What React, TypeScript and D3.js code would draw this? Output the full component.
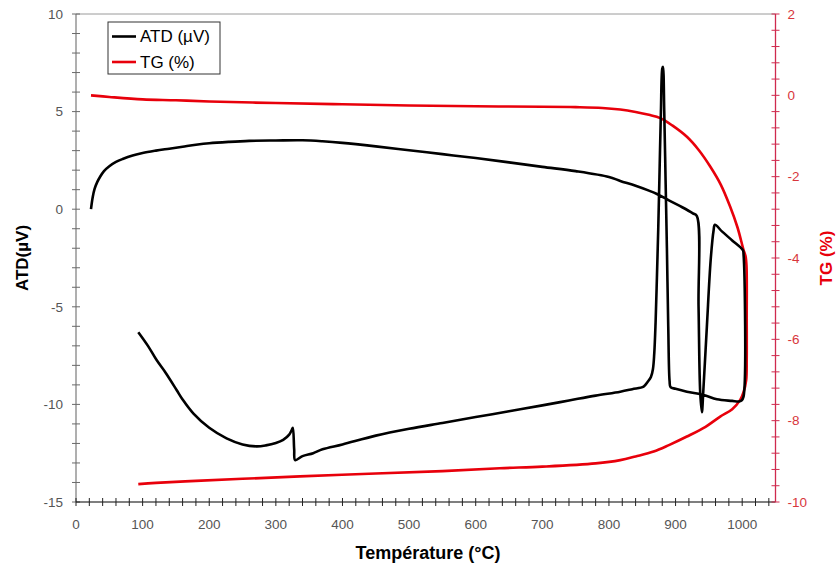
import React from "react";
import * as d3 from "d3";

// Temperature (°C) and DTA signal (µV): heating run then cooling run
const atdTemp = [
  22.5, 25, 28, 32, 36, 42, 50, 60, 70, 85, 100, 120, 140, 160, 180, 200, 230, 260, 300, 340,
  370, 400, 450, 500, 550, 600, 650, 700, 750, 800, 817, 840, 860, 872, 890, 910, 926, 932,
  934.5, 937, 939.5, 941.5, 947, 952.7, 957, 959, 970, 985, 1001, 1002, 1002,
  999, 995, 985, 962, 942, 917, 900, 892.5, 891, 889, 887, 885, 883, 881, 880, 878, 876, 874,
  872, 870, 868, 866, 863, 858, 852, 835, 817, 780, 740, 700, 650, 600, 550, 500, 450, 400,
  370, 356, 340, 329, 327.5, 325.5, 324, 320, 311, 300, 285, 271, 250, 226, 200, 176, 160,
  151, 135, 121, 108, 93.5,
];
const atdValue = [
  0.0, 0.6, 1.05, 1.4, 1.65, 1.95, 2.2, 2.42, 2.57, 2.75, 2.88, 3.0, 3.1, 3.2, 3.3, 3.38, 3.45,
  3.5, 3.52, 3.53, 3.48, 3.4, 3.22, 3.02, 2.82, 2.62, 2.4, 2.17, 1.95, 1.65, 1.45, 1.2, 0.95,
  0.78, 0.45, 0.1, -0.21, -0.35, -5, -9.4, -10.4, -9.4, -6, -2.6, -1.1, -0.8, -1.15, -1.6,
  -2.1, -2.3, -9.6,
  -9.8, -9.85, -9.82, -9.74, -9.52, -9.35, -9.2, -9.12, -8.8, -6, -2, 1.5, 5, 7.3, 7.2, 5, 2,
  -1, -3.5, -5.8, -7.4, -8.2, -8.6, -8.85, -9.09, -9.22, -9.35, -9.55, -9.8, -10.05, -10.35,
  -10.65, -10.95, -11.25, -11.6, -12.05, -12.3, -12.5, -12.65, -12.85, -12.3, -11.2, -11.3,
  -11.55, -11.82, -11.98, -12.1, -12.15, -12.05, -11.74, -11.2, -10.46, -9.75, -9.26, -8.4,
  -7.73, -7.0, -6.3,
];

// Temperature (°C) and mass change TG (%): heating run then cooling run
const tgTemp = [
  22.5, 50, 100, 150, 200, 300, 400, 500, 600, 700, 750, 790, 817, 840, 860, 877, 895, 917,
  935, 952, 968, 982, 993, 1002, 1005, 1006.5, 1006.8, 1006.8, 1006, 1002, 997, 985, 967,
  945, 917, 890, 867, 840, 817, 780, 700, 636, 550, 450, 336, 250, 180, 120, 93.5,
];
const tgValue = [
  0.0, -0.04, -0.1, -0.12, -0.15, -0.19, -0.22, -0.25, -0.27, -0.28, -0.29, -0.31, -0.35,
  -0.41, -0.48, -0.56, -0.74, -1.02, -1.35, -1.75, -2.2, -2.74, -3.25, -3.8, -3.95, -4.2,
  -5.5, -6.5, -7.0, -7.3, -7.49, -7.72, -7.9, -8.15, -8.39, -8.6, -8.76, -8.88, -8.97, -9.05,
  -9.13, -9.17, -9.24, -9.3, -9.37, -9.43, -9.48, -9.53, -9.56,
];

const xTickLabels = [0, 100, 200, 300, 400, 500, 600, 700, 800, 900, 1000];
const leftTickLabels = [-15, -10, -5, 0, 5, 10];
const rightTickLabels = [-10, -8, -6, -4, -2, 0, 2];

const seriesNames = ["ATD (µV)", "TG (%)"];

const W = 840;
const H = 569;
const FONT = "'Liberation Sans', Arial, Helvetica, sans-serif";
const RED = "#e8000b";
const AXIS_RED = "#cf2a4e";

export default function App() {
  const left = 76;
  const right = 775.5;
  const top = 14;
  const bottom = 502;

  const x = d3.scaleLinear().domain([0, 1050]).range([left, right]);
  const yL = d3.scaleLinear().domain([-15, 10]).range([bottom, top]);
  const yR = d3.scaleLinear().domain([-10, 2]).range([bottom, top]);

  const atdPts: [number, number][] = atdTemp.map((t, i) => [t, atdValue[i]]);
  const tgPts: [number, number][] = tgTemp.map((t, i) => [t, tgValue[i]]);

  const atdLine = d3
    .line<[number, number]>()
    .x((d) => x(d[0]))
    .y((d) => yL(d[1]))
    .curve(d3.curveCatmullRom.alpha(0.5));
  const tgLine = d3
    .line<[number, number]>()
    .x((d) => x(d[0]))
    .y((d) => yR(d[1]))
    .curve(d3.curveCatmullRom.alpha(0.5));

  const xMinor = d3.range(0, 1050, 20);
  const lMinor = d3.range(-15, 10.001, 1);
  const rMinor = d3.range(0, 31).map((i) => -10 + i * 0.4);

  return (
    <svg
      width={W}
      height={H}
      style={{ position: "absolute", left: 0, top: 0, background: "#fff" }}
      fontFamily={FONT}
    >
      <rect x={0} y={0} width={W} height={H} fill="#fff" />

      {/* frame top */}
      <line x1={left} x2={right} y1={top} y2={top} stroke="#9a9a9a" strokeWidth={1} />

      {/* series */}
      <path d={tgLine(tgPts) ?? ""} fill="none" stroke={RED} strokeWidth={2.6} strokeLinejoin="round" />
      <path d={atdLine(atdPts) ?? ""} fill="none" stroke="#000" strokeWidth={2.6} strokeLinejoin="round" />

      {/* left axis */}
      <line x1={left} x2={left} y1={top} y2={bottom} stroke="#7a7a7a" strokeWidth={1.2} />
      {lMinor.map((v) => (
        <line key={"l" + v} x1={left - 4} x2={left + 4} y1={yL(v)} y2={yL(v)} stroke="#6a6a6a" strokeWidth={1} />
      ))}
      {leftTickLabels.map((v) => (
        <text key={"lt" + v} x={left - 13} y={yL(v)} dy="0.35em" textAnchor="end" fontSize={13.5} fill="#555">
          {v}
        </text>
      ))}

      {/* bottom axis */}
      <line x1={left} x2={right} y1={bottom} y2={bottom} stroke="#000" strokeWidth={1.2} />
      {xMinor.map((v) => (
        <line key={"x" + v} x1={x(v)} x2={x(v)} y1={bottom - 4} y2={bottom + 4} stroke="#222" strokeWidth={1} />
      ))}
      {xTickLabels.map((v) => (
        <text key={"xt" + v} x={x(v)} y={bottom + 27} textAnchor="middle" fontSize={13.5} fill="#555">
          {v}
        </text>
      ))}

      {/* right axis */}
      <line x1={right} x2={right} y1={top} y2={bottom} stroke={AXIS_RED} strokeWidth={1.3} />
      {rMinor.map((v, i) => (
        <line key={"r" + i} x1={right - 4} x2={right + 4} y1={yR(v)} y2={yR(v)} stroke={AXIS_RED} strokeWidth={1} />
      ))}
      {rightTickLabels.map((v) => (
        <text key={"rt" + v} x={right + 12} y={yR(v)} dy="0.35em" textAnchor="start" fontSize={13.5} fill="#d8363c">
          {v}
        </text>
      ))}

      {/* axis titles */}
      <text
        transform={`translate(28,${(top + bottom) / 2}) rotate(-90)`}
        textAnchor="middle"
        fontSize={17}
        fontWeight="bold"
        fill="#000"
      >
        ATD(µV)
      </text>
      <text
        transform={`translate(832,${(top + bottom) / 2}) rotate(-90)`}
        textAnchor="middle"
        fontSize={17}
        fontWeight="bold"
        fill={RED}
      >
        TG (%)
      </text>
      <text x={428} y={559} textAnchor="middle" fontSize={18} fontWeight="bold" fill="#000">
        Température (°C)
      </text>

      {/* legend */}
      <g transform="translate(108,22)">
        <rect x={0} y={0} width={112} height={52} fill="#fff" stroke="#333" strokeWidth={1} />
        <line x1={4} x2={28} y1={14.5} y2={14.5} stroke="#000" strokeWidth={2.6} />
        <text x={32} y={14.5} dy="0.35em" fontSize={17} fill="#000">
          {seriesNames[0]}
        </text>
        <line x1={4} x2={28} y1={40} y2={40} stroke={RED} strokeWidth={2.6} />
        <text x={32} y={40} dy="0.35em" fontSize={17} fill="#000">
          {seriesNames[1]}
        </text>
      </g>
    </svg>
  );
}
